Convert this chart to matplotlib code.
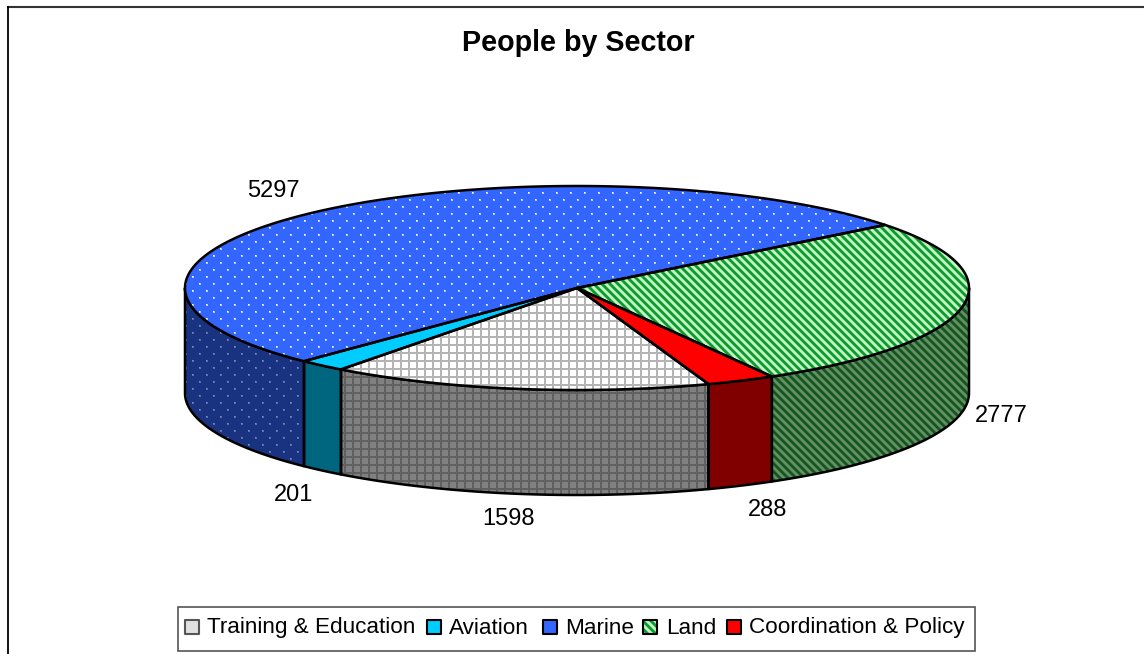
import numpy as np
import matplotlib
matplotlib.use('Agg')
import matplotlib.pyplot as plt
from matplotlib.patches import Polygon, Rectangle
from matplotlib.colors import to_rgb

plt.rcParams['font.family'] = ['Liberation Sans', 'DejaVu Sans']

# valores do grafico, na ordem em que aparecem na legenda
SETORES = ['Training & Education', 'Aviation', 'Marine', 'Land', 'Coordination & Policy']
VALORES = [1598, 201, 5297, 2777, 288]
TITULO = 'People by Sector'

W, H = 1144, 654
CX, CY = 577, 288  # centro da elipse de cima
RX, RY = 392, 102
ALTURA = 105
ANGULO_INICIAL = -70.4  # Training comeca aqui e segue no sentido horario


def tile_pontos(base, ponto):
    t = np.ones((14, 14, 3)) * to_rgb(base)
    suave = 0.35 * np.array(to_rgb(base)) + 0.65 * np.array(to_rgb(ponto))
    for y, x in [(3, 3), (10, 10)]:
        t[y:y + 2, x:x + 2] = suave
        t[y, x] = to_rgb(ponto)
    return t


def tile_grade(fundo, linha):
    t = np.ones((8, 8, 3)) * to_rgb(fundo)
    t[:2, :] = to_rgb(linha)
    t[:, :2] = to_rgb(linha)
    return t


def tile_listras(cor1, cor2):
    c1 = np.array(to_rgb(cor1))
    c2 = np.array(to_rgb(cor2))
    meio = (c1 + c2) / 2
    t = np.ones((8, 8, 3)) * c1
    for y in range(8):
        for x in range(8):
            d = (x - y) % 8
            if d in (0, 4):
                t[y, x] = meio
            elif d < 4:
                t[y, x] = c2
    return t


def tile_liso(cor):
    return np.ones((2, 2, 3)) * to_rgb(cor)


TOPO = [tile_grade('#ffffff', '#b4b4b4'), tile_liso('#00ccff'),
        tile_pontos('#3366ff', '#ffffff'), tile_listras('#0b9a2c', '#c4f4c4'),
        tile_liso('#ff0000')]
LADO = [tile_grade('#808080', '#606060'), tile_liso('#006680'),
        tile_pontos('#1a3380', '#7f8fc0'), tile_listras('#14561f', '#658f65'),
        tile_liso('#800000')]
AMOSTRA = [tile_liso('#e0e0e0')] + TOPO[1:]
BORDA_AMOSTRA = ['#555555', 'black', 'black', 'black', 'black']


def preencher(ax, verts, tile, z, borda='black', lw=1.8):
    # repete o padrao na tela toda e recorta pelo poligono
    ny = H // tile.shape[0] + 1
    nx = W // tile.shape[1] + 1
    img = np.tile(tile, (ny, nx, 1))[:H, :W]
    im = ax.imshow(img, extent=(0, W, H, 0), interpolation='nearest', aspect='auto', zorder=z)
    im.set_clip_path(Polygon(verts, transform=ax.transData))
    ax.add_patch(Polygon(verts, fill=False, edgecolor=borda, linewidth=lw, joinstyle='round', zorder=z + 0.5))


def arco(a1, a2, n=120):
    t = np.radians(np.linspace(a1, a2, n))
    return np.column_stack([CX + RX * np.cos(t), CY - RY * np.sin(t)])


fig = plt.figure(figsize=(W / 100, H / 100), dpi=100)
ax = fig.add_axes([0, 0, 1, 1])
ax.axis('off')

# angulos de cada fatia a partir dos valores
total = sum(VALORES)
passos = [v / total * 360 for v in VALORES]
limites = ANGULO_INICIAL - np.cumsum([0] + passos)

# lados primeiro (so a parte da frente aparece, de -180 a 0)
for i in range(len(VALORES)):
    a1, a2 = limites[i], limites[i + 1]
    for volta in (0, 360):
        ini = min(a1 + volta, 0)
        fim = max(a2 + volta, -180)
        if ini <= fim:
            continue
        borda = arco(ini, fim)
        embaixo = borda[::-1] + [0, ALTURA]
        preencher(ax, np.vstack([borda, embaixo]), LADO[i], 2 + i * 0.01)

# tampa de cima
for i in range(len(VALORES)):
    verts = np.vstack([[CX, CY], arco(limites[i], limites[i + 1], 200)])
    preencher(ax, verts, TOPO[i], 3 + i * 0.01)

# moldura do grafico (so em cima e a esquerda)
ax.plot([7, W], [6.5, 6.5], color='#333333', lw=1.5, zorder=1, solid_capstyle='butt')
ax.plot([7.5, 7.5], [6, H], color='black', lw=1.3, zorder=1, solid_capstyle='butt')

ax.text(578, 43, TITULO, ha='center', va='center', fontsize=20.6, fontweight='bold')

# rotulos de valor
rotulos = [(509, 519), (294, 495), (273, 191), (1001, 416), (768, 510)]
for v, (x, y) in zip(VALORES, rotulos):
    ax.text(x, y, str(v), ha='center', va='center', fontsize=17)

# legenda
ax.add_patch(Rectangle((177.5, 606.5), 797, 44, facecolor='white', edgecolor='#555555', lw=1.2, zorder=5))
xs_amostra = [185, 427, 543, 643, 727]
xs_texto = [207, 449, 565, 666, 749]
for i, nome in enumerate(SETORES):
    x0 = xs_amostra[i]
    quad = [(x0, 620), (x0 + 14, 620), (x0 + 14, 634), (x0, 634)]
    preencher(ax, quad, AMOSTRA[i], 6 + i * 0.01, borda=BORDA_AMOSTRA[i], lw=1.5)
    ax.text(xs_texto[i], 628, nome, ha='left', va='center', fontsize=16.2, zorder=7)

ax.set_xlim(0, W)
ax.set_ylim(H, 0)
fig.savefig('out.png', dpi=100)
